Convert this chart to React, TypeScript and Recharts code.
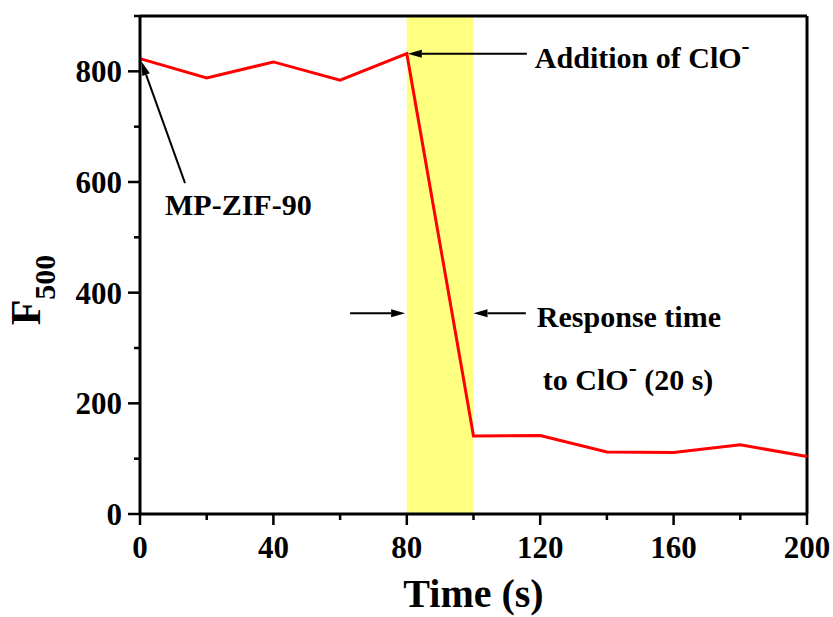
import React from "react";
import {
  ComposedChart,
  Line,
  XAxis,
  YAxis,
  ReferenceArea,
  ReferenceLine,
  ReferenceDot,
} from "recharts";

// fluorescence at 500 nm over time
const times = [0, 20, 40, 60, 80, 100, 120, 140, 160, 180, 200];
const f500 = [823, 788, 817, 784, 832, 141, 142, 112, 111, 125, 104];

const xTicks = [0, 20, 40, 60, 80, 100, 120, 140, 160, 180, 200];
const yTicks = [0, 100, 200, 300, 400, 500, 600, 700, 800, 900];

const data = times.map((t, i) => ({ t, f: f500[i] }));

const FONT = '"Liberation Serif", "Times New Roman", serif';

const YTick = (props: any) => {
  const { x, y, payload } = props;
  const v = payload.value;
  const major = v % 200 === 0;
  return (
    <g>
      <line x1={x} x2={x - (major ? 12 : 6)} y1={y} y2={y} stroke="#000" strokeWidth={2.5} />
      {major && (
        <text x={x - 18} y={y + 11} textAnchor="end" fontFamily={FONT} fontWeight="bold" fontSize={31} fill="#000">
          {v}
        </text>
      )}
    </g>
  );
};

const XTick = (props: any) => {
  const { x, y, payload } = props;
  const v = payload.value;
  const major = v % 40 === 0;
  return (
    <g>
      <line x1={x} x2={x} y1={y} y2={y + (major ? 11 : 6)} stroke="#000" strokeWidth={2.5} />
      {major && (
        <text x={x} y={y + 44} textAnchor="middle" fontFamily={FONT} fontWeight="bold" fontSize={31} fill="#000">
          {v}
        </text>
      )}
    </g>
  );
};

const Arrow = (props: any) => {
  const { x1, y1, x2, y2 } = props;
  const ang = Math.atan2(y2 - y1, x2 - x1);
  const len = 14;
  const hw = 4;
  const bx = x2 - len * Math.cos(ang);
  const by = y2 - len * Math.sin(ang);
  const px = -Math.sin(ang) * hw;
  const py = Math.cos(ang) * hw;
  return (
    <g>
      <line x1={x1} y1={y1} x2={bx} y2={by} stroke="#000" strokeWidth={2} />
      <polygon points={`${x2},${y2} ${bx + px},${by + py} ${bx - px},${by - py}`} fill="#000" />
    </g>
  );
};

const txt = (content: React.ReactNode) => (p: any) =>
  (
    <text x={p.cx} y={p.cy} fontFamily={FONT} fontWeight="bold" fontSize={30} fill="#000">
      {content}
    </text>
  );

const YLabel = (p: any) => {
  const vb = p.viewBox;
  const cx = 40;
  const cy = vb.y + vb.height / 2 + 25;
  return (
    <text
      x={cx}
      y={cy}
      transform={`rotate(-90, ${cx}, ${cy})`}
      textAnchor="middle"
      fontFamily={FONT}
      fontWeight="bold"
      fontSize={42}
      fill="#000"
    >
      F
      <tspan fontSize={30} dy={15}>
        500
      </tspan>
    </text>
  );
};

const XLabel = (p: any) => {
  const vb = p.viewBox;
  return (
    <text
      x={vb.x + vb.width / 2}
      y={vb.y + 93}
      textAnchor="middle"
      fontFamily={FONT}
      fontWeight="bold"
      fontSize={40}
      fill="#000"
    >
      Time (s)
    </text>
  );
};

export default function App() {
  return (
    <div style={{ position: "absolute", left: 0, top: 0, background: "#fff" }}>
      <ComposedChart
        width={833}
        height={617}
        data={data}
        margin={{ top: 16, right: 26, bottom: 13, left: 0 }}
      >
        <ReferenceArea x1={80} x2={100} y1={0} y2={900} fill="#FFFF80" fillOpacity={1} stroke="none" />
        <XAxis
          dataKey="t"
          type="number"
          domain={[0, 200]}
          ticks={xTicks}
          interval={0}
          height={90}
          tickSize={0}
          tickMargin={0}
          tickLine={false}
          tick={<XTick />}
          axisLine={{ stroke: "#000", strokeWidth: 3 }}
          label={<XLabel />}
        />
        <YAxis
          type="number"
          domain={[0, 900]}
          ticks={yTicks}
          interval={0}
          width={140}
          tickSize={0}
          tickMargin={0}
          tickLine={false}
          tick={<YTick />}
          axisLine={{ stroke: "#000", strokeWidth: 3 }}
          label={<YLabel />}
        />
        <ReferenceLine y={900} stroke="#000" strokeWidth={3} ifOverflow="visible" />
        <ReferenceLine x={200} stroke="#000" strokeWidth={3} ifOverflow="visible" />
        <Line
          dataKey="f"
          stroke="#FF0000"
          strokeWidth={3}
          dot={false}
          isAnimationActive={false}
        />
        <ReferenceLine segment={[{ x: 116, y: 832 }, { x: 80.3, y: 832 }]} shape={<Arrow />} ifOverflow="visible" />
        <ReferenceLine segment={[{ x: 13.5, y: 598 }, { x: 0.4, y: 818 }]} shape={<Arrow />} ifOverflow="visible" />
        <ReferenceLine segment={[{ x: 63, y: 363 }, { x: 79.5, y: 363 }]} shape={<Arrow />} ifOverflow="visible" />
        <ReferenceLine segment={[{ x: 115.7, y: 363 }, { x: 100, y: 363 }]} shape={<Arrow />} ifOverflow="visible" />
        <ReferenceDot
          x={118.4}
          y={805.5}
          r={0}
          ifOverflow="visible"
          shape={txt(
            <>
              Addition of ClO
              <tspan dy={-14} fontSize={24}>
                -
              </tspan>
            </>
          )}
        />
        <ReferenceDot x={7.5} y={540} r={0} ifOverflow="visible" shape={txt("MP-ZIF-90")} />
        <ReferenceDot x={119} y={337.4} r={0} ifOverflow="visible" shape={txt("Response time")} />
        <ReferenceDot
          x={120.8}
          y={223.6}
          r={0}
          ifOverflow="visible"
          shape={txt(
            <>
              to ClO
              <tspan dy={-14} fontSize={24}>
                -
              </tspan>
              <tspan dy={14}> (20 s)</tspan>
            </>
          )}
        />
      </ComposedChart>
    </div>
  );
}
